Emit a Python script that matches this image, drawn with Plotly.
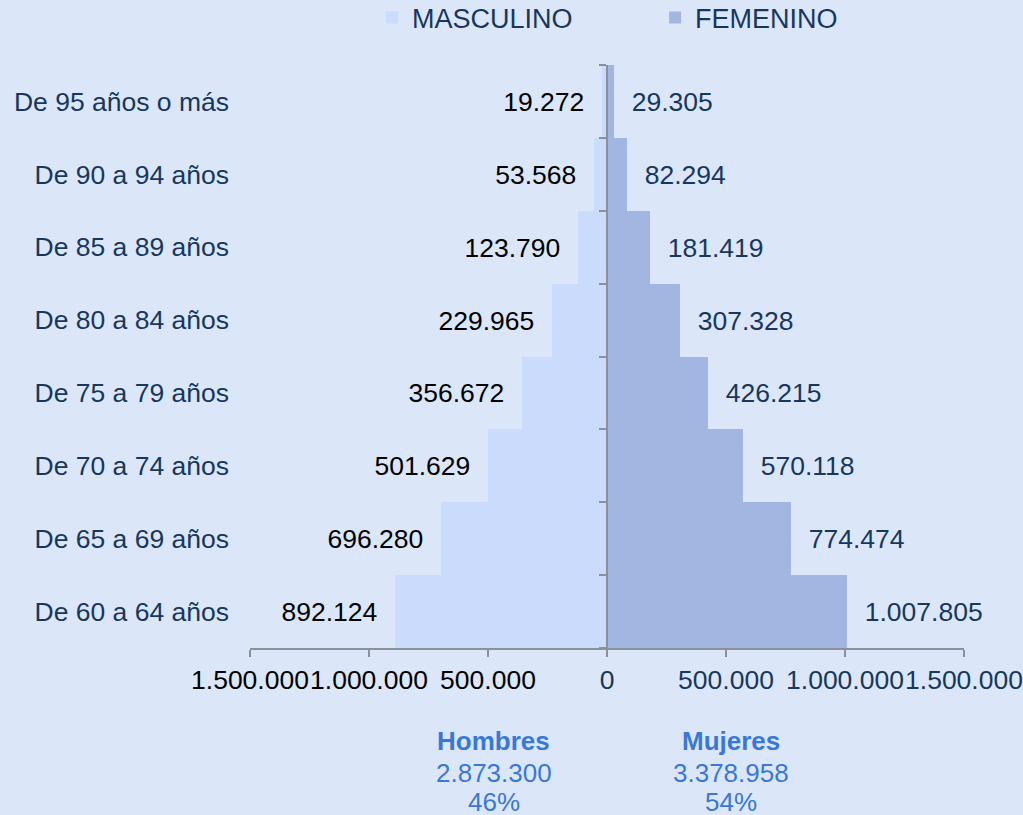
import plotly.graph_objects as go

# age groups, bottom to top
grupos = ["De 60 a 64 años", "De 65 a 69 años", "De 70 a 74 años", "De 75 a 79 años",
          "De 80 a 84 años", "De 85 a 89 años", "De 90 a 94 años", "De 95 años o más"]
masculino = [892124, 696280, 501629, 356672, 229965, 123790, 53568, 19272]
femenino = [1007805, 774474, 570118, 426215, 307328, 181419, 82294, 29305]

tick_vals = [-1500000, -1000000, -500000, 0, 500000, 1000000, 1500000]
tick_text = ["1.500.000", "1.000.000", "500.000", "0", "500.000", "1.000.000", "1.500.000"]

resumen_titulos = ["Hombres", "Mujeres"]
resumen_totales = ["2.873.300", "3.378.958"]
resumen_pct = ["46%", "54%"]

BG = "#dbe7f9"
AZUL = "#17375e"
GRIS = "#8c9099"
NB = "\u00a0"
FS = 26.5


def fmt(v):
    return f"{v:,}".replace(",", ".")


fig = go.Figure()
fig.add_trace(go.Bar(
    y=grupos, x=[-v for v in masculino], orientation="h", name="MASCULINO",
    marker=dict(color="#cadbfc", line=dict(width=0)),
    text=[fmt(v) + NB * 2 for v in masculino], textposition="outside",
    textfont=dict(color="black", size=FS), cliponaxis=False, constraintext="none",
))
fig.add_trace(go.Bar(
    y=grupos, x=femenino, orientation="h", name="FEMENINO",
    marker=dict(color="#a3b6e1", line=dict(width=0)),
    text=[NB * 2 + fmt(v) for v in femenino], textposition="outside",
    textfont=dict(color=AZUL, size=FS), cliponaxis=False, constraintext="none",
))
# invisible trace to draw the central axis with boundary ticks
fig.add_trace(go.Scatter(
    y=grupos, x=[0] * len(grupos), yaxis="y2", mode="markers",
    marker=dict(opacity=0), showlegend=False, hoverinfo="skip",
))

# tick label colors: black on the left, blue on the right
colored_ticks = []
for v, t in zip(tick_vals, tick_text):
    c = "black" if v < 0 else AZUL
    colored_ticks.append(f"<span style='color:{c}'>{t}</span>")

annotations = []
for xpos, tit, tot, pct in zip([-475000, 520000], resumen_titulos, resumen_totales, resumen_pct):
    for ypos, txt in zip([-0.1595, -0.2144, -0.2645], [f"<b>{tit}</b>", tot, pct]):
        annotations.append(dict(
            x=xpos, xref="x", y=ypos, yref="paper", yanchor="middle",
            text=txt, showarrow=False, font=dict(size=26, color="#3a78d6"),
        ))

fig.update_layout(
    width=1023, height=815,
    paper_bgcolor=BG, plot_bgcolor=BG,
    barmode="overlay", bargap=0,
    font=dict(family="Liberation Sans, Arial", size=FS, color=AZUL),
    margin=dict(l=250, r=59, t=65, b=167),
    showlegend=True,
    legend=dict(orientation="h", x=0.171, xanchor="left", yref="container", y=0.978,
                yanchor="middle", font=dict(size=27, color=AZUL), entrywidth=238,
                bgcolor="rgba(0,0,0,0)"),
    xaxis=dict(range=[-1500000, 1500000], tickvals=tick_vals, ticktext=colored_ticks,
               tickangle=0, ticks="outside", ticklen=7, tickcolor=GRIS, tickwidth=2,
               showline=True, linecolor=GRIS, linewidth=2, showgrid=False, zeroline=False,
               tickfont=dict(size=FS), automargin=False),
    yaxis=dict(range=[-0.5, 7.5], showgrid=False, zeroline=False, showline=False,
               ticks="", ticklabelstandoff=20, tickfont=dict(size=FS, color=AZUL),
               automargin=False),
    yaxis2=dict(range=[-0.5, 7.5], overlaying="y", anchor="free", position=0.5, side="left",
                showticklabels=False, ticks="outside", ticklen=7, tickcolor=GRIS, tickwidth=2,
                tickson="boundaries", showline=True, linecolor=GRIS, linewidth=2,
                showgrid=False, zeroline=False, automargin=False),
    annotations=annotations,
)

fig.write_html("out.html", config={"displayModeBar": False},
               post_script="document.body.style.margin='0';")
